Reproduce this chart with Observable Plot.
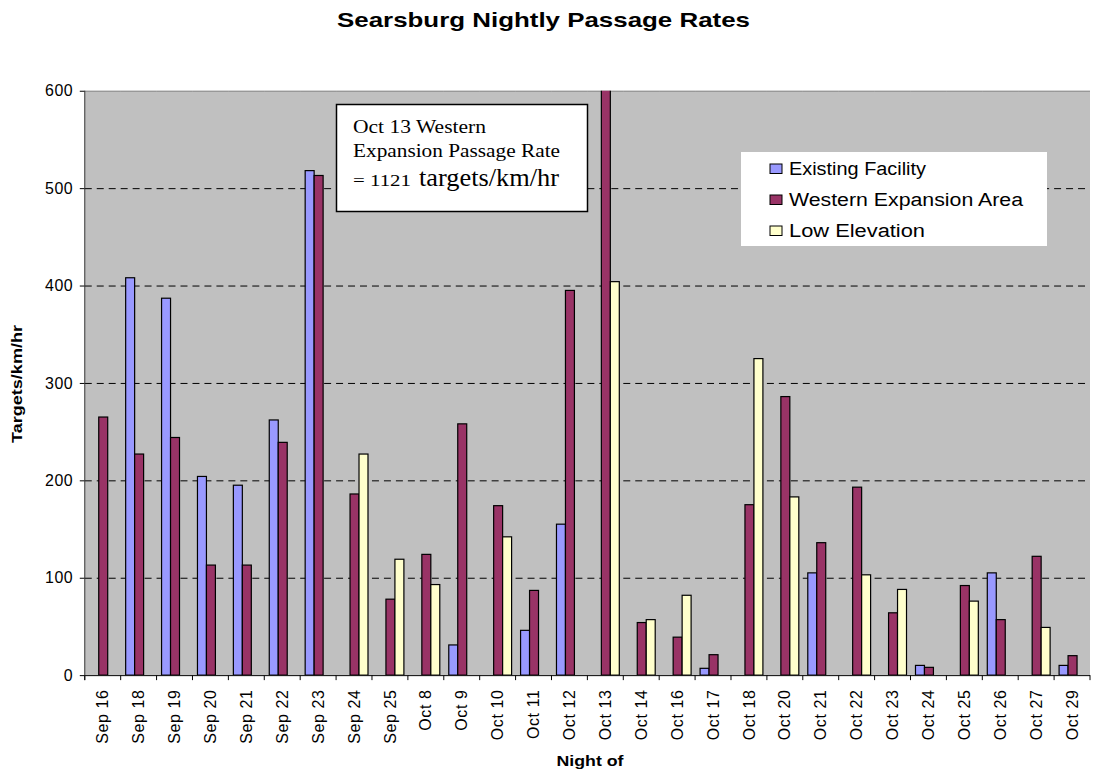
<!DOCTYPE html>
<html><head><meta charset="utf-8">
<script src="https://cdn.jsdelivr.net/npm/d3@7"></script>
<script src="https://cdn.jsdelivr.net/npm/@observablehq/plot@0.6"></script>
<style>
body{margin:0;background:#fff;overflow:hidden}
#wrap{position:relative;width:1094px;height:774px;overflow:hidden}
#wrap svg{position:absolute;left:0;top:0}
</style></head><body><div id="wrap"></div>
<script>
const nights = ["Sep 16","Sep 18","Sep 19","Sep 20","Sep 21","Sep 22","Sep 23","Sep 24","Sep 25","Oct 8","Oct 9","Oct 10","Oct 11","Oct 12","Oct 13","Oct 14","Oct 16","Oct 17","Oct 18","Oct 20","Oct 21","Oct 22","Oct 23","Oct 24","Oct 25","Oct 26","Oct 27","Oct 29"];
const existingFacility = [null,408,387,204,195,262,518,null,null,null,31,null,46,155,null,null,null,7,null,null,105,null,null,10,null,105,null,10];
const westernExpansion = [265,227,244,113,113,239,513,186,78,124,258,174,87,395,1121,54,39,21,175,286,136,193,64,8,92,57,122,20];
const lowElevation = [null,null,null,null,null,null,null,227,119,93,null,142,null,null,404,57,82,null,325,183,null,103,88,null,76,null,49,null];
const seriesNames = ["Existing Facility","Western Expansion Area","Low Elevation"];
const seriesColors = ["#9999ff","#993366","#ffffcc"];
const yTicks = [0,100,200,300,400,500,600];
const titleText = "Searsburg Nightly Passage Rates";
const yLabel = "Targets/km/hr";
const xLabel = "Night of";
const noteLines = ["Oct 13 Western", "Expansion Passage Rate", "= 1121", "targets/km/hr"];

const seriesArrays = [existingFacility, westernExpansion, lowElevation];
const rows = [];
nights.forEach((n, i) => {
  seriesArrays.forEach((arr, k) => {
    if (arr[i] != null) rows.push({night: n, series: seriesNames[k], value: arr[i]});
  });
});

const plot = Plot.plot({
  width: 1097, height: 774,
  marginLeft: 81, marginRight: 0, marginTop: 91, marginBottom: 97,
  style: {fontFamily: "Arial, 'Liberation Sans', sans-serif", fontSize: "16px", color: "#000", background: "transparent", letterSpacing: "0.6px"},
  fx: {domain: nights, padding: 0, label: null},
  x: {domain: seriesNames, paddingInner: 0, paddingOuter: 0.5, axis: null},
  y: {domain: [0, 600], label: null},
  color: {domain: seriesNames, range: seriesColors},
  marks: [
    Plot.ruleY(yTicks.filter(t => t > 0 && t < 600), {stroke: "#000", strokeDasharray: "7,5", strokeWidth: 1}),
    Plot.ruleY([600], {stroke: "#8a8a8a"}),
    Plot.barY(rows, {fx: "night", x: "series", y: "value", fill: "series", stroke: "#000", strokeWidth: 1.2, clip: true}),
    Plot.ruleY([0], {stroke: "#000"}),
    Plot.axisY({ticks: yTicks, tickSize: 5, tickPadding: 7, label: null}),
    Plot.axisFx({anchor: "bottom", tickRotate: -90, tickSize: 0, tickPadding: 14, label: null})
  ]
});

const wrap = document.getElementById("wrap");
wrap.appendChild(plot);

// background + axis decorations derived from the plot's scales
const fx = plot.scale("fx"), ys = plot.scale("y");
const left = fx.apply(nights[0]);
const right = fx.apply(nights[nights.length - 1]) + fx.bandwidth;
const yBottom = ys.apply(0), yTop = ys.apply(600);
const svg = d3.select(plot);
svg.insert("rect", "g").attr("x", left).attr("y", yTop).attr("width", right - left).attr("height", yBottom - yTop).attr("fill", "#c0c0c0");
const deco = svg.append("g").attr("stroke", "#000").attr("stroke-width", 1);
deco.append("line").attr("x1", left).attr("x2", left).attr("y1", yTop).attr("y2", yBottom + 5).attr("stroke", "#333");
const bounds = nights.map(n => fx.apply(n)).concat([right]);
bounds.forEach(b => deco.append("line").attr("x1", b).attr("x2", b).attr("y1", yBottom).attr("y2", yBottom + 5));

// overlay: titles, annotation, legend
const ov = d3.select(wrap).append("svg").attr("width", 1094).attr("height", 774).style("pointer-events", "none");
function txt(s, x, y, opts) {
  const t = ov.append("text").attr("x", x).attr("y", y).text(s)
    .attr("font-family", opts.family || "Arial, 'Liberation Sans', sans-serif")
    .attr("font-size", opts.size).attr("font-weight", opts.weight || "normal").attr("fill", "#000");
  if (opts.anchor) t.attr("text-anchor", opts.anchor);
  if (opts.len) t.attr("textLength", opts.len).attr("lengthAdjust", "spacingAndGlyphs");
  if (opts.transform) t.attr("transform", opts.transform);
  return t;
}
txt(titleText, 337, 27, {size: 20.5, weight: "bold", len: 413});
txt(yLabel, 0, 0, {size: 15, weight: "bold", anchor: "middle", len: 118, transform: "translate(22,384) rotate(-90)"});
txt(xLabel, 590, 766, {size: 15, weight: "bold", anchor: "middle", len: 67});

ov.append("rect").attr("x", 336.5).attr("y", 104.5).attr("width", 251).attr("height", 107).attr("fill", "#fff").attr("stroke", "#000").attr("stroke-width", 1.5);
const serif = "'Times New Roman', 'Liberation Serif', serif";
txt(noteLines[0], 353, 133, {size: 18, family: serif, len: 133});
txt(noteLines[1], 353, 157, {size: 18, family: serif, len: 207});
txt(noteLines[2], 353, 186, {size: 17, family: serif, len: 58});
txt(noteLines[3], 419, 186, {size: 25, family: serif, len: 140});

ov.append("rect").attr("x", 741).attr("y", 152).attr("width", 306).attr("height", 94).attr("fill", "#fff");
const legendLens = [137, 234, 136];
seriesNames.forEach((s, i) => {
  const base = 174.5 + i * 31;
  ov.append("rect").attr("x", 770).attr("y", base - 10.5).attr("width", 12).attr("height", 9.5)
    .attr("fill", seriesColors[i]).attr("stroke", "#000").attr("stroke-width", 1);
  txt(s, 789, base, {size: 18, len: legendLens[i]});
});
</script></body></html>
